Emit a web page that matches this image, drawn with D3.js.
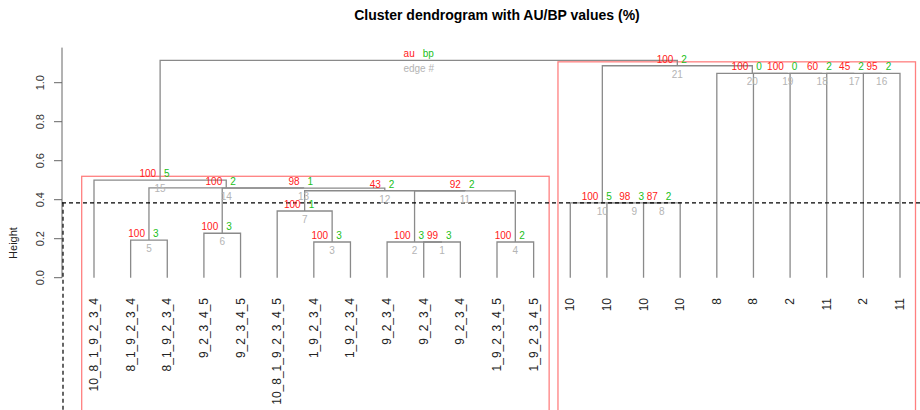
<!DOCTYPE html>
<html><head><meta charset="utf-8">
<script src="https://cdn.jsdelivr.net/npm/d3@7"></script>
<style>body{margin:0;background:#fff}svg{font-family:"Liberation Sans",Arial,sans-serif}</style>
</head><body><svg id="c" width="920" height="410"></svg>
<script>
const leafLabels = ["10_8_1_9_2_3_4","8_1_9_2_3_4","8_1_9_2_3_4","9_2_3_4_5","9_2_3_4_5","10_8_1_9_2_3_4_5","1_9_2_3_4","1_9_2_3_4","9_2_3_4","9_2_3_4","9_2_3_4","1_9_2_3_4_5","1_9_2_3_4_5","10","10","10","10","8","8","2","11","2","11"];
// merges: negative = leaf index (1-based, display order), positive = earlier edge number
const merges = [[-10,-11],[-9,1],[-7,-8],[-12,-13],[-2,-3],[-4,-5],[-6,3],[-16,-17],[-15,8],[-14,9],[2,4],[7,11],[6,12],[5,13],[-1,14],[-22,-23],[-21,16],[-20,17],[-19,18],[-18,19],[10,20],[15,21]];
const heights = [0.183,0.183,0.183,0.183,0.193,0.228,0.342,0.384,0.384,0.384,0.445,0.446,0.459,0.461,0.50,1.048,1.048,1.048,1.048,1.048,1.087,1.115];
const au = [99,100,100,100,100,100,100,87,98,100,92,43,98,100,100,95,45,60,100,100,100];
const bp = [3,3,3,2,3,3,1,2,3,5,2,2,1,2,5,2,2,2,0,0,2];
const yTicks = [0,0.2,0.4,0.6,0.8,1.0];
const clusterEdges = [15,21];
const cutHeight = 0.384;

const svg = d3.select("#c");
const x = d3.scaleLinear().domain([0, leafLabels.length-1]).range([94, 900]);
const y = d3.scaleLinear().domain([0, 1]).range([277.7, 82.7]);
const treeCol = "#8a8a8a";

const nodeX = [], nodeLeaves = [];
function childX(c){ return c<0 ? x(-c-1) : nodeX[c-1]; }
function childH(c){ return c<0 ? 0 : heights[c-1]; }
function childLeaves(c){ return c<0 ? [-c-1] : nodeLeaves[c-1]; }
merges.forEach((m,i)=>{
  nodeX[i] = (childX(m[0])+childX(m[1]))/2;
  nodeLeaves[i] = childLeaves(m[0]).concat(childLeaves(m[1]));
});

svg.append("text").attr("x",497).attr("y",20).attr("text-anchor","middle")
  .attr("font-size",14).attr("font-weight","bold").text("Cluster dendrogram with AU/BP values (%)");

const rg = svg.append("g");
clusterEdges.forEach(e=>{
  const lv = nodeLeaves[e-1];
  const x0 = x(d3.min(lv))-12.3, x1 = x(d3.max(lv))+15.5;
  const yt = y(heights[e-1]+0.02);
  rg.append("rect").attr("x",x0).attr("y",yt).attr("width",x1-x0).attr("height",420-yt)
    .attr("fill","none").attr("stroke","#ff8080").attr("stroke-width",1.3);
});

const tg = svg.append("g").attr("stroke",treeCol).attr("stroke-width",1.3).attr("fill","none");
merges.forEach((m,i)=>{
  const h = y(heights[i]);
  const xa = childX(m[0]), xb = childX(m[1]);
  tg.append("path").attr("d",`M${xa},${y(childH(m[0]))}V${h}H${xb}V${y(childH(m[1]))}`);
});

const ax = svg.append("g");
ax.append("line").attr("x1",62).attr("x2",62).attr("y1",y(1.18)).attr("y2",y(0)).attr("stroke","#666");
yTicks.forEach(t=>{
  ax.append("line").attr("x1",54).attr("x2",62).attr("y1",y(t)).attr("y2",y(t)).attr("stroke","#666");
  ax.append("text").attr("transform",`translate(44,${y(t)}) rotate(-90)`).attr("text-anchor","middle")
    .attr("font-size",11).attr("fill","#333").text(t.toFixed(1));
});
svg.append("text").attr("transform",`translate(17,243) rotate(-90)`).attr("text-anchor","middle")
  .attr("font-size",11).attr("fill","#222").text("Height");

svg.append("line").attr("x1",62).attr("x2",920).attr("y1",y(cutHeight)).attr("y2",y(cutHeight))
  .attr("stroke","#000").attr("stroke-width",1.2).attr("stroke-dasharray","4,3");
svg.append("line").attr("x1",63).attr("x2",63).attr("y1",y(cutHeight)).attr("y2",410)
  .attr("stroke","#000").attr("stroke-width",1.2).attr("stroke-dasharray","4,3");

const lg = svg.append("g").attr("font-size",10);
merges.forEach((m,i)=>{
  const nx = nodeX[i], ny = y(heights[i]);
  const isRoot = i===merges.length-1;
  lg.append("text").attr("x",nx-4).attr("y",ny-3).attr("text-anchor","end").attr("fill","#ff2020")
    .text(isRoot?"au":au[i]);
  lg.append("text").attr("x",nx+4).attr("y",ny-3).attr("text-anchor","start").attr("fill","#20c020")
    .text(isRoot?"bp":bp[i]);
  lg.append("text").attr("x",nx).attr("y",ny+12).attr("text-anchor","middle").attr("fill","#b4b4b4")
    .text(isRoot?"edge #":(i+1));
});

const fg = svg.append("g").attr("font-size",12).attr("fill","#222");
leafLabels.forEach((l,i)=>{
  fg.append("text").attr("transform",`translate(${x(i)},298) rotate(-90)`).attr("text-anchor","end")
    .attr("dominant-baseline","central").text(l);
});
</script></body></html>
